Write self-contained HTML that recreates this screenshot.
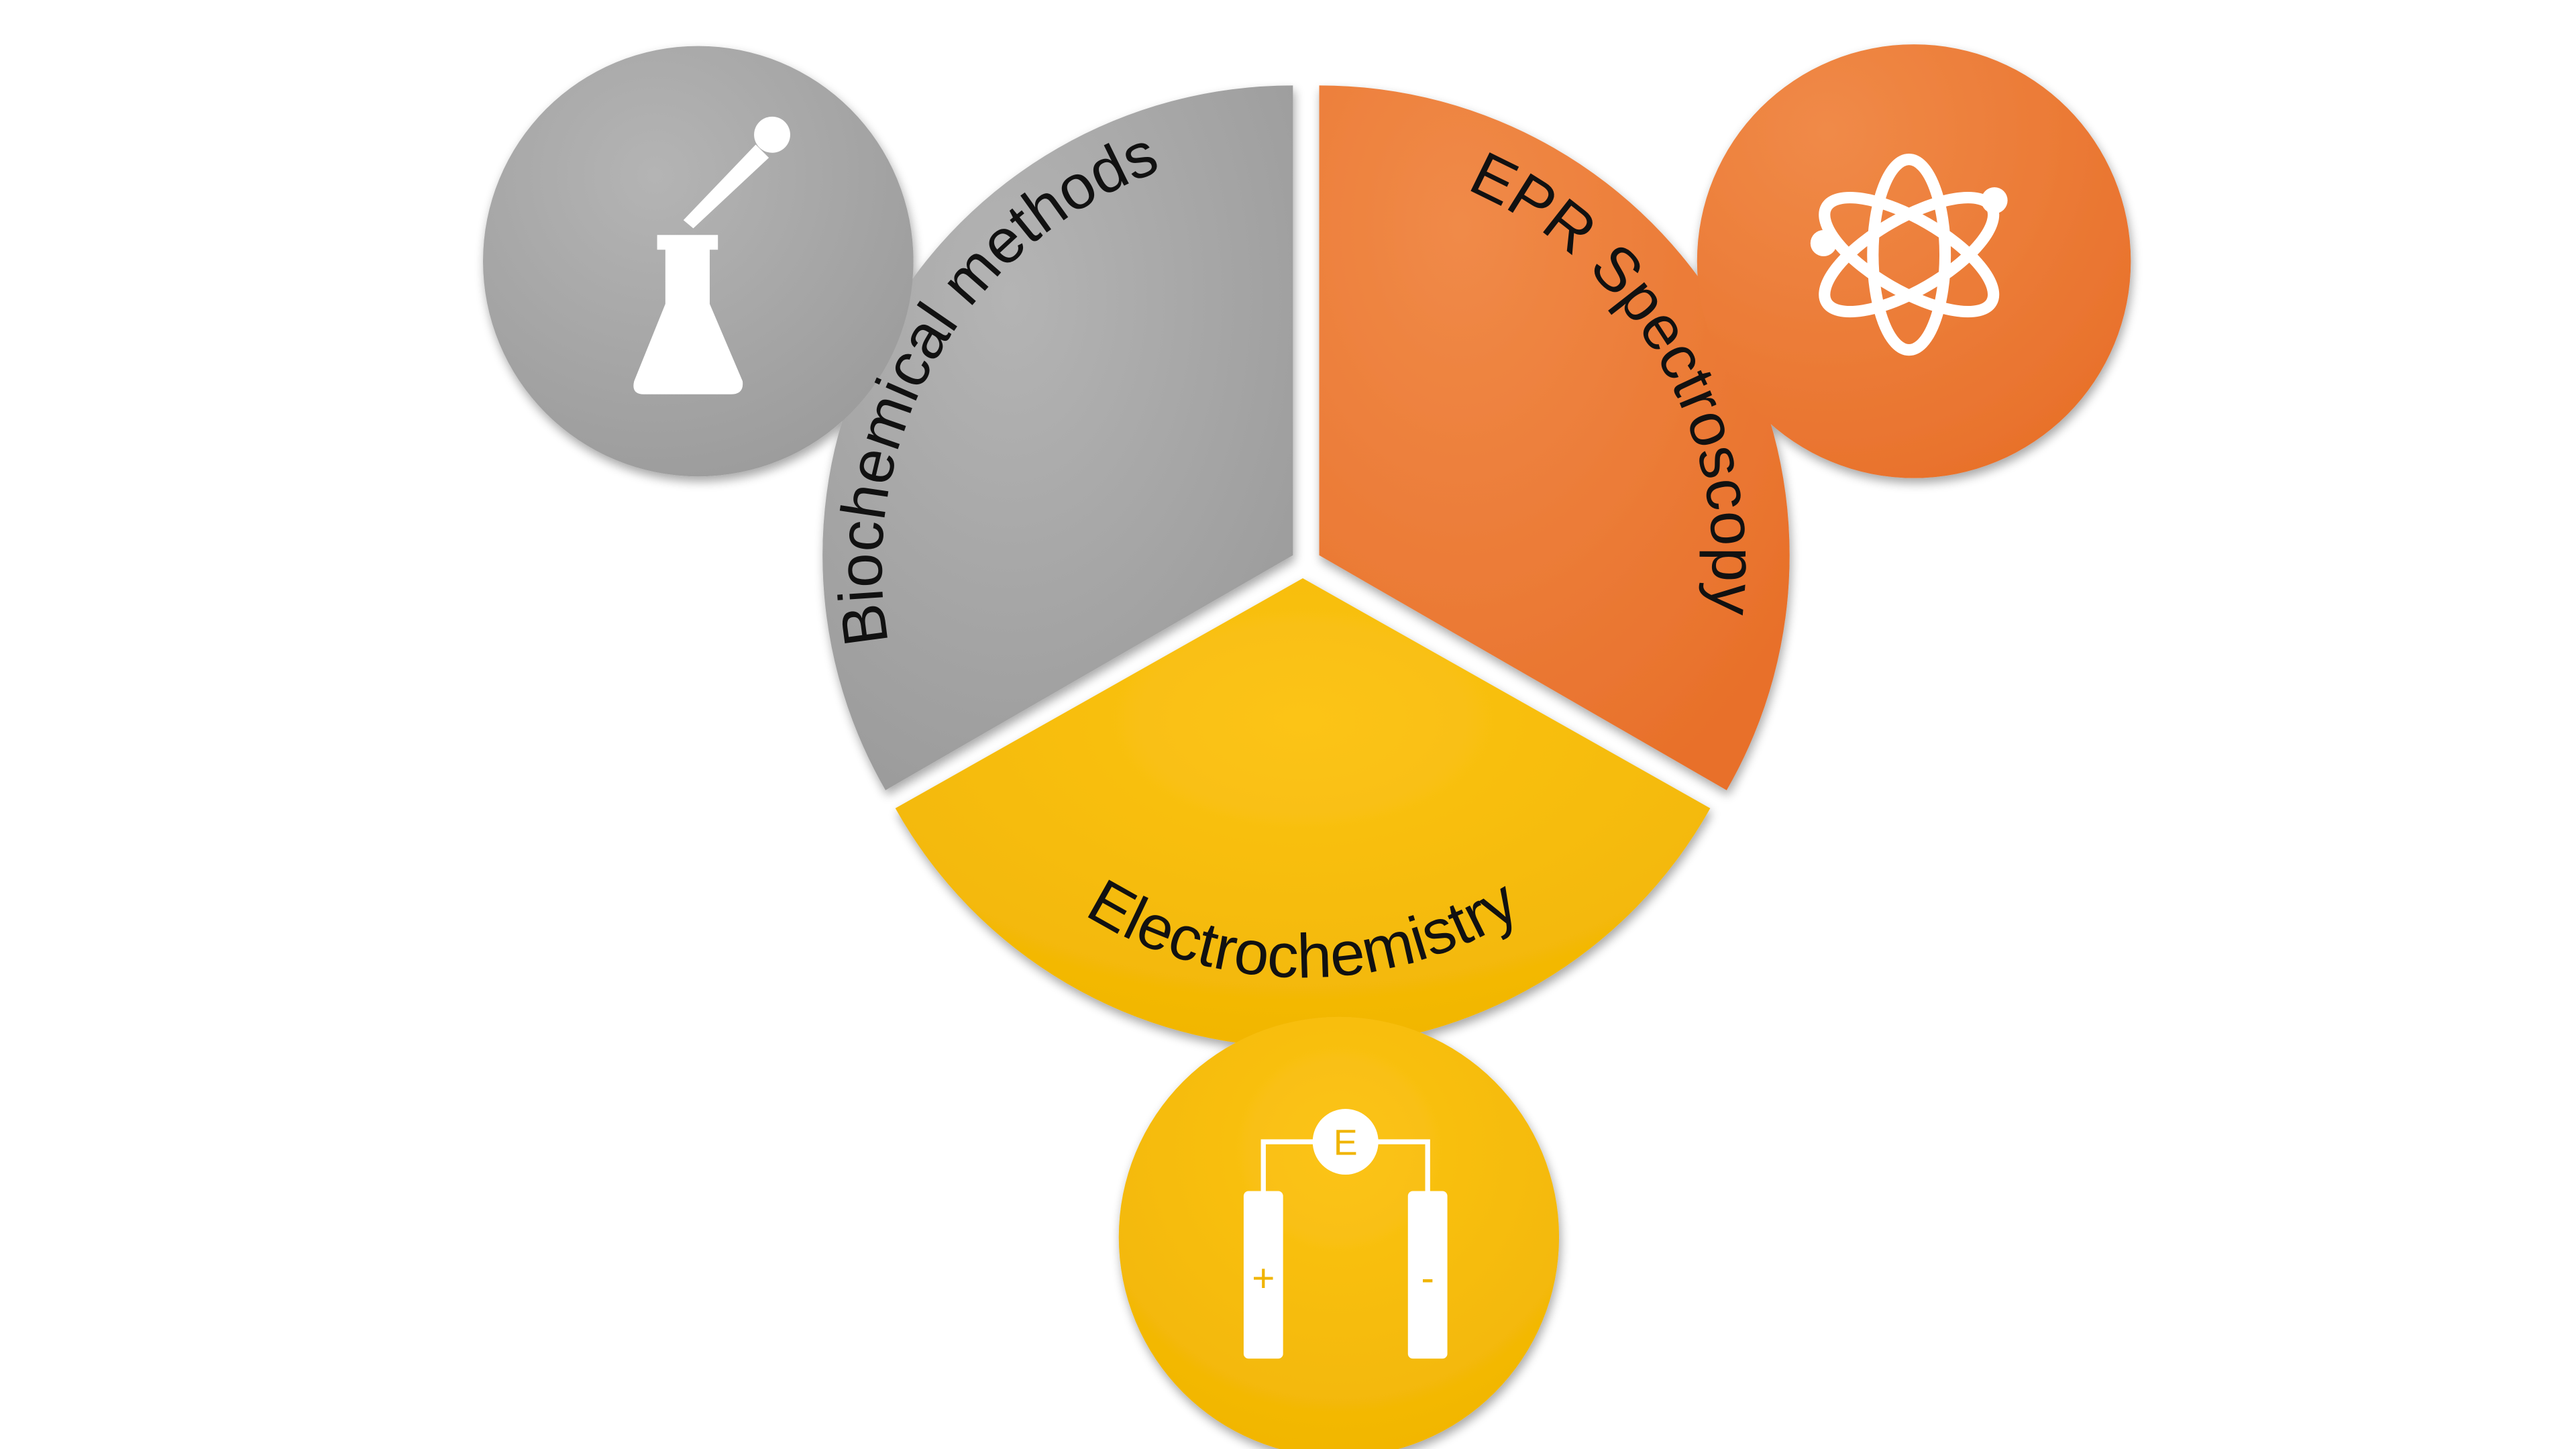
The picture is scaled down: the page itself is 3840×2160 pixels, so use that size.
<!DOCTYPE html>
<html><head><meta charset="utf-8"><style>html,body{margin:0;padding:0;background:#fff}svg{display:block}</style></head>
<body>
<svg width="3840" height="2160" viewBox="0 0 1568 882" xmlns="http://www.w3.org/2000/svg">
<defs>
<radialGradient id="gg" cx="0.4" cy="0.3" r="0.8"><stop offset="0" stop-color="#b4b4b4"/><stop offset="1" stop-color="#9a9a9a"/></radialGradient>
<radialGradient id="og" cx="0.3" cy="0.2" r="0.9"><stop offset="0" stop-color="#f08a48"/><stop offset="1" stop-color="#e8702a"/></radialGradient>
<radialGradient id="yg" cx="0.5" cy="0.3" r="0.8"><stop offset="0" stop-color="#fcc418"/><stop offset="1" stop-color="#f0b400"/></radialGradient>
<filter id="sh" x="-20%" y="-20%" width="140%" height="140%"><feGaussianBlur in="SourceAlpha" stdDeviation="3"/><feOffset dx="1" dy="3"/><feComponentTransfer><feFuncA type="linear" slope="0.35"/></feComponentTransfer><feMerge><feMergeNode/><feMergeNode in="SourceGraphic"/></feMerge></filter>
<path id="pb" d="M 571 473 A 256 256 0 0 1 793 89"/>
<path id="pe" d="M 793 95 A 248 248 0 0 1 1008 469"/>
<path id="py" d="M 576.5 470 A 250 250 0 0 0 1009.5 470"/>
</defs>
<g filter="url(#sh)">
<path d="M787,338 L787,52 A286,286 0 0 0 539,481 Z" fill="url(#gg)"/>
<path d="M803,338 L803,52 A286,286 0 0 1 1051,481 Z" fill="url(#og)"/>
<path d="M793,352 L545,492 A284,284 0 0 0 1041,492 Z" fill="url(#yg)"/>
<circle cx="425" cy="159" r="131" fill="url(#gg)"/>
<circle cx="1165" cy="159" r="132" fill="url(#og)"/>
<circle cx="815" cy="753" r="134" fill="url(#yg)"/>
</g>
<g font-family="'Liberation Sans', sans-serif" font-size="38" fill="#111">
<text><textPath href="#pb" startOffset="50%" text-anchor="middle">Biochemical methods</textPath></text>
<text><textPath href="#pe" startOffset="50%" text-anchor="middle">EPR Spectroscopy</textPath></text>
<text><textPath href="#py" startOffset="50%" text-anchor="middle">Electrochemistry</textPath></text>
</g>
<!-- flask -->
<g fill="#fff">
<path d="M400,143 L437,143 L437,152 L432,152 L432,185 L452,232 Q453,240 445,240 L392,240 Q384,240 386,232 L405,185 L405,152 L400,152 Z"/>
<path d="M416,134 L460,88 L468,96 L422,139 Z"/>
<circle cx="470" cy="82" r="11"/>
</g>
<!-- atom -->
<g fill="none" stroke="#fff" stroke-width="7">
<ellipse cx="1162" cy="155" rx="22" ry="58"/>
<ellipse cx="1162" cy="155" rx="22" ry="58" transform="rotate(60 1162 155)"/>
<ellipse cx="1162" cy="155" rx="22" ry="58" transform="rotate(-60 1162 155)"/>
</g>
<circle cx="1110" cy="148" r="8" fill="#fff"/>
<circle cx="1214" cy="122" r="8" fill="#fff"/>
<!-- battery -->
<g fill="#fff">
<rect x="757" y="725" width="24" height="102" rx="3"/>
<rect x="857" y="725" width="24" height="102" rx="3"/>
</g>
<path d="M769,725 L769,695 L800,695 M838,695 L869,695 L869,725" fill="none" stroke="#fff" stroke-width="3"/>
<circle cx="819" cy="695" r="20" fill="#fff"/>
<g font-family="'Liberation Sans', sans-serif" fill="#f0b400" text-anchor="middle">
<text x="819" y="703" font-size="22">E</text>
<text x="769" y="786" font-size="24">+</text>
<text x="869" y="786" font-size="24">-</text>
</g>
</svg>
</body></html>
